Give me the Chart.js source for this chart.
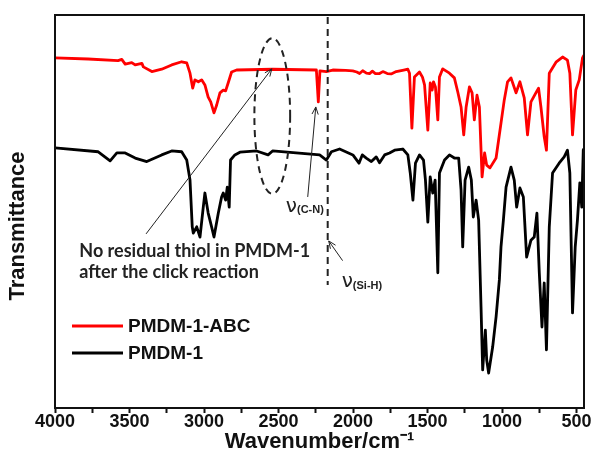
<!DOCTYPE html>
<html>
<head>
<meta charset="utf-8">
<script src="https://cdn.jsdelivr.net/npm/chart.js@4.4.1/dist/chart.umd.min.js"></script>
<style>
  html, body { margin: 0; padding: 0; background: #fff; }
  #wrap { width: 592px; height: 463px; }
</style>
</head>
<body>
<div id="wrap"><canvas id="chartFTIR" width="592" height="463"></canvas></div>
<script>
// FTIR spectra, transmittance in arbitrary units (offset curves)
const abcWavenumber = [4000, 3778, 3577, 3552, 3529, 3485, 3462, 3417, 3407, 3350, 3284, 3217, 3150, 3116, 3094, 3076, 3061, 3038, 3016, 2994, 2972, 2955, 2933, 2915, 2893, 2871, 2855, 2838, 2815, 2781, 2538, 2246, 2233, 2222, 2179, 2136, 2050, 2002, 1975, 1956, 1935, 1910, 1889, 1870, 1850, 1822, 1800, 1770, 1744, 1710, 1660, 1632, 1621, 1605, 1588, 1554, 1534, 1520, 1498, 1482, 1469, 1460, 1447, 1431, 1420, 1398, 1353, 1320, 1297, 1275, 1257, 1241, 1219, 1201, 1186, 1168, 1152, 1134, 1117, 1103, 1081, 1040, 1023, 1007, 985, 963, 940, 906, 880, 851, 829, 806, 773, 755, 739, 717, 702, 683, 638, 594, 561, 545, 527, 505, 482, 460, 450];
const abcTransmittance = [89.1, 88.8, 88.4, 88.7, 87.5, 87.9, 87.3, 87.7, 86.8, 85.6, 86.2, 87.3, 88.1, 87.8, 85.2, 81.4, 83.5, 83.0, 83.5, 82.2, 79.1, 77.9, 75.1, 77.1, 80.2, 80.9, 80.7, 82.7, 85.5, 86.0, 86.2, 86.0, 77.9, 85.8, 85.6, 86.0, 85.9, 85.8, 85.5, 85.1, 85.8, 85.2, 85.1, 85.7, 85.1, 85.1, 85.6, 85.1, 85.0, 85.6, 86.0, 86.2, 85.2, 71.2, 84.2, 85.5, 84.2, 82.2, 70.7, 82.7, 80.9, 83.0, 81.7, 73.3, 84.2, 86.3, 85.2, 84.0, 80.4, 76.6, 69.5, 76.6, 81.7, 80.2, 73.3, 79.6, 76.6, 58.8, 64.9, 61.8, 61.1, 63.6, 68.2, 72.5, 78.4, 83.0, 84.0, 80.2, 83.0, 78.9, 69.5, 77.9, 80.2, 81.4, 76.6, 69.0, 65.6, 85.2, 88.0, 89.3, 88.5, 85.2, 69.5, 80.9, 83.5, 89.1, 89.8];

const pmdmWavenumber = [4000, 3710, 3630, 3585, 3529, 3462, 3384, 3284, 3217, 3150, 3116, 3094, 3079, 3072, 3049, 3027, 3005, 2994, 2972, 2949, 2933, 2904, 2882, 2871, 2855, 2844, 2831, 2822, 2793, 2759, 2647, 2570, 2540, 2224, 2179, 2145, 2090, 2001, 1960, 1938, 1911, 1877, 1844, 1822, 1788, 1755, 1721, 1666, 1632, 1616, 1598, 1581, 1554, 1527, 1514, 1498, 1482, 1465, 1449, 1431, 1420, 1386, 1353, 1320, 1291, 1275, 1264, 1248, 1224, 1206, 1193, 1174, 1157, 1141, 1130, 1112, 1103, 1090, 1063, 1040, 1018, 1007, 991, 973, 940, 918, 902, 880, 857, 835, 806, 784, 766, 750, 732, 717, 702, 683, 661, 617, 583, 561, 545, 527, 509, 494, 478, 465, 455, 450];
const pmdmTransmittance = [66.2, 65.2, 62.9, 64.9, 64.9, 63.6, 62.7, 64.4, 65.4, 65.2, 63.1, 58.0, 46.1, 44.5, 46.1, 43.5, 51.1, 54.7, 49.6, 46.1, 43.5, 49.6, 53.7, 54.7, 52.9, 56.2, 51.1, 63.1, 64.4, 65.1, 65.4, 64.4, 65.4, 64.4, 63.1, 65.2, 65.9, 64.4, 62.3, 64.4, 63.6, 62.7, 63.9, 62.4, 64.4, 64.9, 65.6, 65.9, 64.4, 59.8, 52.9, 62.3, 64.4, 63.1, 58.0, 47.3, 58.8, 54.7, 58.0, 34.4, 59.8, 63.1, 64.4, 63.6, 63.6, 55.5, 41.0, 58.0, 61.3, 58.0, 48.6, 52.9, 47.8, 25.7, 9.7, 19.8, 12.2, 8.9, 15.5, 23.2, 32.6, 41.0, 47.8, 56.2, 61.3, 58.0, 51.1, 56.0, 53.7, 38.4, 42.7, 43.5, 49.6, 34.4, 20.6, 31.8, 14.8, 46.1, 59.8, 62.3, 63.9, 65.6, 59.8, 24.2, 41.0, 47.8, 57.3, 51.1, 65.6, 66.0];

const xTicks = [4000, 3750, 3500, 3250, 3000, 2750, 2500, 2250, 2000, 1750, 1500, 1250, 1000, 750, 500];
const seriesNames = ['PMDM-1-ABC', 'PMDM-1'];
const seriesColors = ['#ff0000', '#000000'];

function toPoints(xs, ys) {
    return xs.map((x, i) => ({ x: x, y: ys[i] }));
}

function arrow(ctx, x1, y1, x2, y2) {
    const ang = Math.atan2(y2 - y1, x2 - x1);
    const h = 8;
    ctx.beginPath();
    ctx.moveTo(x1, y1);
    ctx.lineTo(x2, y2);
    ctx.moveTo(x2 - h * Math.cos(ang - 0.4), y2 - h * Math.sin(ang - 0.4));
    ctx.lineTo(x2, y2);
    ctx.lineTo(x2 - h * Math.cos(ang + 0.4), y2 - h * Math.sin(ang + 0.4));
    ctx.stroke();
}

// extra drawing: white background, frame, y title, notes, legend
const decorations = {
    id: 'decorations',
    beforeDraw(chart) {
        const ctx = chart.ctx;
        ctx.save();
        ctx.fillStyle = '#fff';
        ctx.fillRect(0, 0, chart.width, chart.height);
        ctx.restore();
    },
    afterDatasetsDraw(chart) {
        const { ctx, chartArea: a, scales: { x, y } } = chart;
        const px = v => x.getPixelForValue(v);
        const py = v => y.getPixelForValue(v);
        ctx.save();

        // dashed line at Si-H
        ctx.strokeStyle = '#222';
        ctx.lineWidth = 2;
        ctx.setLineDash([7, 5]);
        ctx.beginPath();
        ctx.moveTo(px(2170), a.top + 2);
        ctx.lineTo(px(2170), py(31.3));
        ctx.stroke();

        // dashed ellipse around the thiol region
        const cx = px(2542), cy = py(74.3);
        ctx.beginPath();
        ctx.ellipse(cx, cy, Math.abs(px(2662) - cx), Math.abs(py(94.1) - cy), 0, 0, Math.PI * 2);
        ctx.stroke();
        ctx.setLineDash([]);

        // arrows
        ctx.lineWidth = 1;
        ctx.strokeStyle = '#222';
        arrow(ctx, px(3389), py(44.3), px(2545), py(86.3));
        arrow(ctx, px(2304), py(53.7), px(2250), py(76.6));
        arrow(ctx, px(2070), py(37.5), px(2163), py(42.5));

        // notes
        ctx.fillStyle = '#222';
        ctx.textBaseline = 'middle';
        ctx.textAlign = 'left';
        ctx.font = 'bold 18px Lato, "Liberation Sans", sans-serif';
        ctx.fillText('No residual thiol in PMDM-1', px(3837), py(39.9));
        ctx.fillText('after the click reaction', px(3837), py(34.6));

        ctx.font = '20px "DejaVu Sans", sans-serif';
        ctx.fillText('ν', px(2451), py(51.3));
        let w = ctx.measureText('ν').width;
        ctx.font = 'bold 11px "Liberation Sans", sans-serif';
        ctx.fillText('(C-N)', px(2451) + w, py(50.3));

        ctx.font = '20px "DejaVu Sans", sans-serif';
        ctx.fillText('ν', px(2076), py(32.0));
        w = ctx.measureText('ν').width;
        ctx.font = 'bold 11px "Liberation Sans", sans-serif';
        ctx.fillText('(Si-H)', px(2076) + w, py(31.0));

        // legend
        chart.data.datasets.forEach((ds, i) => {
            const ly = 326 + i * 27;
            ctx.strokeStyle = ds.borderColor;
            ctx.lineWidth = 3;
            ctx.beginPath();
            ctx.moveTo(a.left + 17, ly);
            ctx.lineTo(a.left + 68, ly);
            ctx.stroke();
            ctx.fillStyle = '#111';
            ctx.font = 'bold 19px "Liberation Sans", Arial, sans-serif';
            ctx.fillText(ds.label, a.left + 73, ly + 1);
        });

        ctx.restore();
    },
    afterDraw(chart) {
        const { ctx, chartArea: a } = chart;
        ctx.save();
        ctx.strokeStyle = '#111';
        ctx.lineWidth = 2;
        ctx.strokeRect(a.left, a.top, a.right - a.left, a.bottom - a.top);

        // y title
        ctx.translate(18, 226);
        ctx.rotate(-Math.PI / 2);
        ctx.fillStyle = '#111';
        ctx.font = 'bold 22px "Liberation Sans", Arial, sans-serif';
        ctx.textAlign = 'center';
        ctx.textBaseline = 'middle';
        ctx.fillText('Transmittance', 0, 0);
        ctx.restore();
    }
};

Chart.defaults.font.family = '"Liberation Sans", Arial, sans-serif';
Chart.defaults.color = '#111';

const ctxFTIR = document.getElementById('chartFTIR').getContext('2d');
const chartFTIR = new Chart(ctxFTIR, {
    type: 'line',
    data: {
        datasets: [{
            label: seriesNames[0],
            data: toPoints(abcWavenumber, abcTransmittance),
            borderColor: seriesColors[0],
            borderWidth: 2.8,
            borderJoinStyle: 'round',
            pointRadius: 0,
            tension: 0,
            fill: false
        }, {
            label: seriesNames[1],
            data: toPoints(pmdmWavenumber, pmdmTransmittance),
            borderColor: seriesColors[1],
            borderWidth: 2.8,
            borderJoinStyle: 'round',
            pointRadius: 0,
            tension: 0,
            fill: false
        }]
    },
    options: {
        responsive: false,
        animation: false,
        layout: { padding: { top: 15, right: 8, left: 0, bottom: 0 } },
        plugins: {
            legend: { display: false },
            tooltip: { enabled: false }
        },
        scales: {
            x: {
                type: 'linear',
                reverse: true,
                min: 450,
                max: 4000,
                afterBuildTicks: scale => { scale.ticks = xTicks.map(v => ({ value: v })); },
                afterFit: scale => { scale.height = 55; scale.paddingLeft = 0; scale.paddingRight = 0; },
                grid: {
                    drawOnChartArea: false,
                    drawTicks: true,
                    tickLength: 5,
                    tickWidth: 2,
                    tickColor: '#111'
                },
                border: { display: false },
                ticks: {
                    autoSkip: false,
                    maxRotation: 0,
                    padding: -2,
                    font: { size: 18, weight: 'bold' },
                    callback: v => (v % 500 === 0 ? String(v) : '')
                },
                title: {
                    display: true,
                    text: 'Wavenumber/cm⁻¹',
                    font: { size: 22, weight: 'bold' },
                    padding: { top: 0, bottom: 8 }
                }
            },
            y: {
                min: 0,
                max: 100,
                afterFit: scale => { scale.width = 55; scale.paddingTop = 0; scale.paddingBottom = 0; },
                grid: { display: false },
                border: { display: false },
                ticks: { display: false }
            }
        }
    },
    plugins: [decorations]
});
</script>
</body>
</html>
